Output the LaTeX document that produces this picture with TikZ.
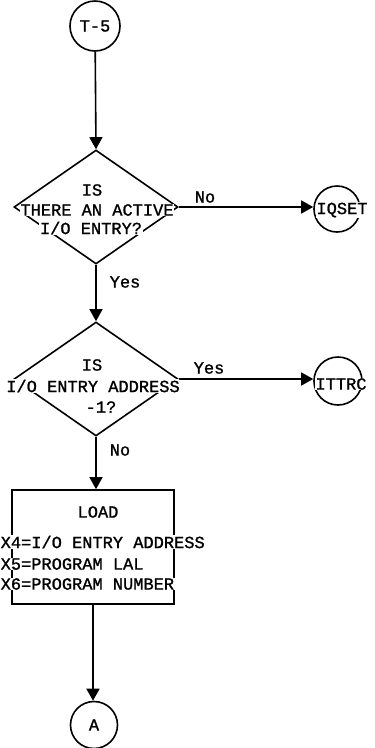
\documentclass[tikz,border=0pt]{standalone}
\usepackage{fontspec}
\setmonofont[FakeBold=1.5,AutoFakeBold=0]{Liberation Mono}
\newfontfamily\tw[FakeBold=1.2]{Liberation Mono}
\usetikzlibrary{shapes.geometric,arrows.meta}
\begin{document}
\begin{tikzpicture}[x=1pt,y=-1pt,
  lw/.style={line width=1.6pt},
  conn/.style={lw,-{Triangle[length=12pt,width=13pt]}},
  term/.style={draw,lw,circle,minimum size=50pt,inner sep=0pt},
  dec/.style={draw,lw,diamond,minimum width=164pt,minimum height=114pt,inner sep=0pt},
  proc/.style={draw,lw,rectangle,minimum width=162pt,minimum height=114pt,inner sep=0pt},
  txt/.style={font=\tw\fontsize{17}{20}\selectfont,inner sep=0.5pt},
  wtxt/.style={txt,fill=white}]
\useasboundingbox (0,0) rectangle (375,748);
% nodes
\node[term,font=\tw\fontsize{17}{20}\selectfont] (t5) at (95,26) {T-5};
\node[dec] (d1) at (96,207) {};
\node[wtxt] (d1a) at (92,190) {IS};
\node[wtxt] (d1b) at (97,210) {THERE AN ACTIVE};
\node[wtxt] (d1c) at (91,228) {I/O ENTRY?};
\node[term,minimum size=46pt] (iq) at (337,209) {};
\node[wtxt] (iqt) at (342,210) {IQSET};
\node[dec] (d2) at (96,379) {};
\node[wtxt] (d2a) at (92,365) {IS};
\node[wtxt] (d2b) at (93,386) {I/O ENTRY ADDRESS};
\node[wtxt] (d2c) at (101,407) {-1?};
\node[term,minimum size=48pt] (it) at (338,381) {};
\node[wtxt] (itt) at (341,384) {ITTRC};
\node[proc] (box) at (93,547) {};
\node[wtxt] (b1) at (98,512) {LOAD};
\node[wtxt,anchor=west] (b2) at (0,542) {X4=I/O ENTRY ADDRESS};
\node[wtxt,anchor=west] (b3) at (0,564) {X5=PROGRAM LAL};
\node[wtxt,anchor=west] (b4) at (0,584) {X6=PROGRAM NUMBER};
\node[term,font=\tw\fontsize{17}{20}\selectfont,minimum size=47pt] (a) at (94,725) {A};
% labels
\node[txt] (l1) at (205,197) {No};
\node[txt] (l2) at (125,282) {Yes};
\node[txt] (l3) at (209,368) {Yes};
\node[txt] (l4) at (120,450) {No};
% connectors
\draw[conn] (t5) -- (d1.north);
\draw[conn] (d1.east) -- (d1.east -| iq.west);
\draw[conn] (d1.south) -- (d2.north);
\draw[conn] (d2.east) -- (d2.east -| it.west);
\draw[conn] (d2.south) -- (d2.south |- box.north);
\draw[conn] (box.south) -- (box.south |- a.north);
\end{tikzpicture}
\end{document}
